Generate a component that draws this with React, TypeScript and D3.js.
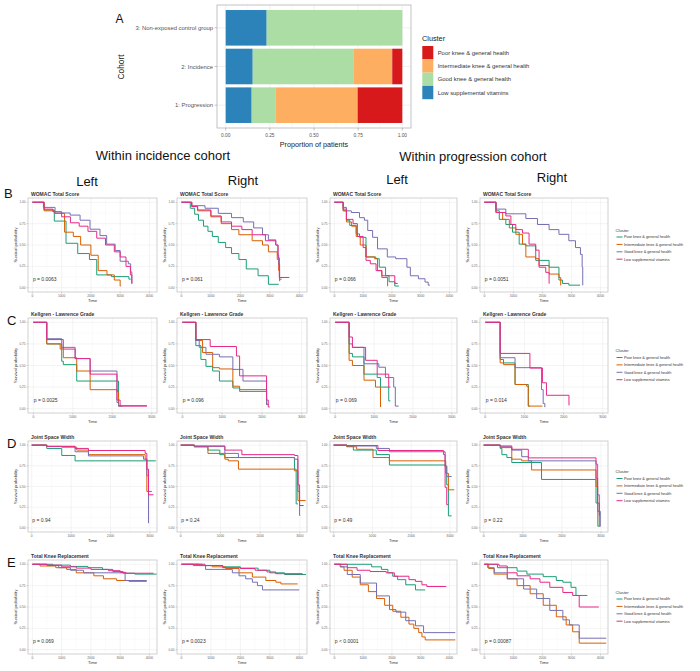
import React from "react";
import * as d3 from "d3";

// ---------- panel A: cluster share per cohort ----------
const cohorts = ["1: Progression", "2: Incidence", "3: Non-exposed control group"];
const lowShare = [0.147, 0.153, 0.232];
const goodShare = [0.134, 0.573, 0.768];
const intermediateShare = [0.466, 0.217, 0];
const poorShare = [0.253, 0.057, 0];
const shareTicks = [0, 0.25, 0.5, 0.75, 1];

const clusterNames = [
  "Poor knee & general health",
  "Intermediate knee & general health",
  "Good knee & general health",
  "Low supplemental vitamins",
];
// bar colours (Spectral) and curve colours (Dark2), same order as clusterNames
const barColors = ["#d7191c", "#fdae61", "#abdda4", "#2b83ba"];
const kmColors = ["#1b9e77", "#d95f02", "#7570b3", "#e7298a"];

// ---------- KM curves: [time, survival], order poor / intermediate / good / low ----------
const womacIncL = [
  [[0, 1], [400, 0.91], [750, 0.78], [1150, 0.52], [1550, 0.4], [1950, 0.33], [2200, 0.15], [2700, 0.13], [3300, 0.1], [3360, 0.1]],
  [[0, 1], [400, 0.9], [750, 0.87], [1100, 0.65], [1400, 0.6], [1650, 0.5], [2000, 0.38], [2250, 0.2], [2550, 0.15], [2800, 0.09], [3000, 0.02], [3020, 0.02]],
  [[0, 1], [376, 0.94], [775, 0.875], [1290, 0.85], [1630, 0.79], [1970, 0.685], [2310, 0.61], [2540, 0.51], [2830, 0.435], [3000, 0.31], [3280, 0.28], [3360, 0.185], [3400, 0.05], [3410, 0.05]],
  [[0, 1], [400, 0.92], [700, 0.89], [1000, 0.83], [1300, 0.76], [1600, 0.72], [1900, 0.66], [2200, 0.58], [2500, 0.5], [2800, 0.42], [3000, 0.36], [3200, 0.25], [3350, 0.15], [3400, 0.05], [3410, 0.05]],
];
const womacIncR = [
  [[0, 1], [300, 0.93], [450, 0.86], [580, 0.79], [750, 0.72], [900, 0.66], [1050, 0.6], [1250, 0.53], [1500, 0.47], [1700, 0.4], [1950, 0.33], [2200, 0.22], [2600, 0.14], [2950, 0.04], [3300, 0.04]],
  [[0, 1], [350, 0.95], [550, 0.9], [1000, 0.83], [1350, 0.75], [1700, 0.68], [1950, 0.62], [2400, 0.55], [2750, 0.5], [2950, 0.42], [3250, 0.33], [3300, 0.2], [3330, 0.08], [3350, 0.08]],
  [[0, 1], [350, 0.96], [800, 0.93], [1250, 0.87], [1700, 0.82], [2100, 0.77], [2450, 0.7], [2750, 0.62], [2950, 0.56], [3200, 0.5], [3270, 0.38], [3300, 0.28], [3330, 0.1], [3400, 0.1]],
  [[0, 1], [350, 0.95], [550, 0.91], [1000, 0.84], [1350, 0.77], [1700, 0.72], [2050, 0.68], [2400, 0.62], [2850, 0.55], [3200, 0.5], [3280, 0.35], [3320, 0.12], [3660, 0.12]],
];
const womacProL = [
  [[0, 1], [307, 0.9], [420, 0.79], [535, 0.73], [760, 0.63], [875, 0.59], [1100, 0.36], [1440, 0.34], [1560, 0.24], [1780, 0.14], [1900, 0.07], [2100, 0.02], [2240, 0.02]],
  [[0, 1], [307, 0.9], [420, 0.77], [600, 0.72], [760, 0.6], [900, 0.5], [1100, 0.36], [1400, 0.34], [1500, 0.2], [1650, 0.12], [1850, 0.02], [1860, 0.02]],
  [[0, 1], [307, 0.94], [420, 0.9], [590, 0.88], [875, 0.82], [1045, 0.79], [1160, 0.67], [1330, 0.59], [1500, 0.455], [1840, 0.36], [2130, 0.34], [2520, 0.24], [2640, 0.14], [2920, 0.105], [3150, 0.066], [3260, 0.03], [3320, 0.03]],
  [[0, 1], [307, 0.92], [420, 0.8], [650, 0.75], [800, 0.6], [1000, 0.47], [1100, 0.32], [1250, 0.28], [1450, 0.2], [1650, 0.14], [2100, 0.05], [2200, 0.05]],
];
const womacProR = [
  [[0, 1], [400, 0.9], [515, 0.8], [740, 0.74], [970, 0.65], [1200, 0.51], [1430, 0.49], [1770, 0.32], [2230, 0.24], [2570, 0.09], [2690, 0.05], [2910, 0.03], [3300, 0.03]],
  [[0, 1], [400, 0.88], [630, 0.8], [860, 0.7], [1085, 0.625], [1315, 0.51], [1430, 0.36], [1770, 0.34], [1885, 0.26], [2230, 0.16], [2570, 0.12], [2630, 0.03], [2640, 0.03]],
  [[0, 1], [400, 0.92], [740, 0.865], [1430, 0.81], [1830, 0.74], [2230, 0.68], [2570, 0.625], [2910, 0.55], [3140, 0.47], [3310, 0.39], [3370, 0.24], [3390, 0.03], [3400, 0.03]],
  [[0, 1], [400, 0.88], [740, 0.84], [915, 0.74], [1085, 0.68], [1315, 0.64], [1540, 0.51], [1770, 0.44], [1885, 0.24], [2115, 0.18], [2230, 0.05], [2240, 0.05]],
];

const klIncL = [
  [[0, 1], [340, 0.75], [720, 0.55], [760, 0.51], [1100, 0.32], [2120, 0.32], [2160, 0.03], [2250, 0.03]],
  [[0, 1], [340, 0.75], [680, 0.69], [760, 0.59], [1100, 0.436], [1440, 0.22], [2120, 0.2], [2160, 0.03], [2200, 0.03]],
  [[0, 1], [340, 0.81], [720, 0.71], [1060, 0.58], [1440, 0.436], [2120, 0.07], [2160, 0.035], [2880, 0.035]],
  [[0, 1], [340, 0.8], [760, 0.69], [1060, 0.58], [1440, 0.4], [2120, 0.1], [2200, 0.03], [2880, 0.03]],
];
const klIncR = [
  [[0, 1], [339, 0.73], [466, 0.57], [593, 0.49], [762, 0.436], [932, 0.32], [1270, 0.24], [1440, 0.22], [2118, 0.05], [2130, 0.05]],
  [[0, 1], [339, 0.79], [508, 0.65], [762, 0.475], [932, 0.46], [1270, 0.26], [1440, 0.2], [2118, 0.05], [2140, 0.05]],
  [[0, 1], [339, 0.79], [424, 0.71], [593, 0.63], [932, 0.6], [1270, 0.455], [1525, 0.32], [2118, 0.05], [2180, 0.05]],
  [[0, 1], [339, 0.8], [700, 0.72], [1360, 0.61], [1440, 0.38], [2118, 0.1], [2160, 0.02], [2200, 0.02]],
];
const klProL = [
  [[0, 1], [357, 0.64], [442, 0.6], [740, 0.4], [1080, 0.36], [1165, 0.25], [1377, 0.09], [1420, 0.09]],
  [[0, 1], [357, 0.56], [442, 0.5], [740, 0.33], [1037, 0.25], [1165, 0.02], [1170, 0.02]],
  [[0, 1], [357, 0.75], [442, 0.71], [740, 0.52], [1122, 0.48], [1292, 0.36], [1505, 0.25], [1547, 0.03], [1632, 0.03]],
  [[0, 1], [357, 0.83], [442, 0.71], [782, 0.56], [1080, 0.4], [1377, 0.25], [1420, 0.25]],
];
const klProR = [
  [[0, 1], [380, 0.57], [465, 0.53], [760, 0.28], [1099, 0.03], [1140, 0.03]],
  [[0, 1], [380, 0.53], [465, 0.51], [760, 0.28], [1056, 0.26], [1099, 0.03], [1460, 0.03]],
  [[0, 1], [380, 0.59], [760, 0.475], [1437, 0.22], [1479, 0.06], [1521, 0.02], [1530, 0.02]],
  [[0, 1], [380, 0.64], [1140, 0.47], [1460, 0.3], [1563, 0.155], [2138, 0.04], [2145, 0.04]],
];

const jswIncL = [
  [[0, 1], [381, 0.96], [762, 0.875], [1100, 0.81], [3150, 0.81]],
  [[0, 1], [381, 0.985], [1100, 0.975], [1143, 0.94], [1440, 0.885], [2880, 0.83], [2922, 0.44], [3050, 0.44]],
  [[0, 1], [381, 0.985], [762, 0.975], [1100, 0.92], [1440, 0.87], [2837, 0.83], [2922, 0.63], [2964, 0.06], [2980, 0.06]],
  [[0, 1], [381, 0.985], [1100, 0.96], [1440, 0.935], [2880, 0.9], [2922, 0.71], [2964, 0.4], [3090, 0.4]],
];
const jswIncR = [
  [[0, 1], [342, 0.98], [684, 0.94], [983, 0.885], [1111, 0.85], [2864, 0.71], [2907, 0.29], [2950, 0.29]],
  [[0, 1], [342, 0.98], [684, 0.9], [1111, 0.83], [1197, 0.81], [1453, 0.71], [2864, 0.69], [2950, 0.33], [3146, 0.33]],
  [[0, 1], [342, 0.985], [1111, 0.9], [1453, 0.85], [2864, 0.83], [2950, 0.44], [2993, 0.15], [3010, 0.15]],
  [[0, 1], [342, 0.99], [1111, 0.94], [1539, 0.885], [2864, 0.875], [2950, 0.52], [2993, 0.27], [3095, 0.27]],
];
const jswProL = [
  [[0, 1], [338, 0.985], [507, 0.94], [1099, 0.886], [1437, 0.76], [2873, 0.74], [2915, 0.52], [2958, 0.145], [3042, 0.145]],
  [[0, 1], [338, 0.98], [592, 0.95], [1014, 0.85], [1437, 0.81], [2890, 0.66], [2958, 0.46], [3110, 0.46]],
  [[0, 1], [338, 0.99], [1099, 0.96], [1437, 0.92], [2831, 0.886], [2873, 0.75], [2915, 0.62], [3042, 0.62]],
  [[0, 1], [338, 0.995], [1141, 0.935], [2831, 0.92], [2873, 0.49], [2915, 0.28], [2958, 0.28]],
];
const jswProR = [
  [[0, 1], [423, 0.96], [465, 0.885], [592, 0.85], [718, 0.79], [1479, 0.585], [2873, 0.3], [2920, 0.02], [2960, 0.02]],
  [[0, 1], [423, 0.97], [718, 0.83], [972, 0.81], [1225, 0.7], [2873, 0.5], [2915, 0.2], [2958, 0.02], [2983, 0.02]],
  [[0, 1], [423, 0.98], [718, 0.94], [972, 0.86], [1141, 0.81], [2873, 0.77], [2915, 0.4], [2958, 0.2], [2983, 0.02], [2990, 0.02]],
  [[0, 1], [423, 0.99], [718, 0.95], [1141, 0.846], [2873, 0.6], [2915, 0.3], [2958, 0.15], [2970, 0.15]],
];

const tkrIncL = [
  [[0, 1], [700, 0.99], [1300, 0.975], [1900, 0.96], [2400, 0.94], [2750, 0.915], [3100, 0.895], [3500, 0.885], [4250, 0.885]],
  [[0, 1], [260, 0.98], [800, 0.96], [1170, 0.94], [1500, 0.9], [2100, 0.865], [2430, 0.83], [2880, 0.81], [3300, 0.8], [3910, 0.8]],
  [[0, 1], [500, 0.985], [900, 0.96], [1300, 0.93], [1750, 0.9], [3170, 0.81], [3910, 0.81]],
  [[0, 1], [500, 0.99], [1000, 0.97], [1500, 0.955], [2000, 0.94], [2600, 0.925], [3000, 0.905], [3200, 0.895], [4140, 0.895]],
];
const tkrIncR = [
  [[0, 1], [700, 0.985], [1400, 0.97], [2000, 0.955], [2600, 0.93], [3000, 0.9], [3500, 0.88], [4226, 0.88]],
  [[0, 1], [600, 0.985], [1045, 0.97], [1500, 0.95], [1954, 0.9], [2408, 0.85], [2863, 0.81], [3204, 0.79], [3374, 0.77], [3942, 0.77]],
  [[0, 1], [400, 0.985], [818, 0.94], [1727, 0.9], [1954, 0.865], [2181, 0.83], [2408, 0.79], [2579, 0.75], [2749, 0.7], [3998, 0.7]],
  [[0, 1], [800, 0.985], [1400, 0.96], [2000, 0.95], [2500, 0.93], [2900, 0.91], [3200, 0.89], [4110, 0.89]],
];
const tkrProL = [
  [[0, 1], [1296, 0.97], [1634, 0.94], [1860, 0.9], [2029, 0.86], [2198, 0.82], [2480, 0.76], [2818, 0.7], [3156, 0.7]],
  [[0, 1], [200, 0.97], [338, 0.93], [620, 0.85], [902, 0.76], [1183, 0.68], [1465, 0.6], [1747, 0.52], [2029, 0.45], [2310, 0.38], [2592, 0.3], [2761, 0.25], [2930, 0.2], [3043, 0.15], [3156, 0.115], [4200, 0.115]],
  [[0, 1], [225, 0.97], [451, 0.88], [902, 0.78], [1465, 0.63], [1916, 0.47], [2141, 0.44], [2479, 0.34], [2818, 0.28], [3099, 0.2], [4200, 0.2]],
  [[0, 1], [451, 0.96], [789, 0.93], [1240, 0.915], [1803, 0.9], [2085, 0.86], [2592, 0.82], [2818, 0.8], [3043, 0.76], [3212, 0.74], [3888, 0.74]],
];
const tkrProR = [
  [[0, 1], [451, 0.96], [1127, 0.92], [1465, 0.885], [2029, 0.855], [2479, 0.81], [2705, 0.79], [2986, 0.73], [3156, 0.635], [3550, 0.635]],
  [[0, 1], [150, 0.95], [338, 0.885], [789, 0.83], [1127, 0.75], [1578, 0.655], [2029, 0.52], [2479, 0.385], [2818, 0.29], [3043, 0.21], [3268, 0.077], [4200, 0.077]],
  [[0, 1], [113, 0.96], [338, 0.9], [789, 0.83], [1352, 0.71], [1803, 0.6], [2254, 0.46], [2705, 0.35], [2930, 0.29], [3268, 0.135], [4200, 0.135]],
  [[0, 1], [507, 0.98], [789, 0.9], [1127, 0.865], [1578, 0.83], [1916, 0.79], [2254, 0.73], [2705, 0.67], [3043, 0.635], [3268, 0.5], [3945, 0.5]],
];

const rowTitles = ["WOMAC Total Score", "Kellgren - Lawrence Grade", "Joint Space Width", "Total Knee Replacement"];
const rowLetters = ["B", "C", "D", "E"];
const pWomac = ["p = 0.0063", "p = 0.061", "p = 0.066", "p = 0.0051"];
const pKl = ["p = 0.0025", "p = 0.096", "p = 0.069", "p = 0.014"];
const pJsw = ["p = 0.94", "p = 0.24", "p = 0.49", "p = 0.22"];
const pTkr = ["p = 0.069", "p = 0.0023", "p < 0.0001", "p = 0.00087"];
const timeTicks4k = [0, 1000, 2000, 3000, 4000];
const timeTicks3k = [0, 1000, 2000, 3000];
const survTicks = [0, 0.25, 0.5, 0.75, 1];

const rowCurves = [
  [womacIncL, womacIncR, womacProL, womacProR],
  [klIncL, klIncR, klProL, klProR],
  [jswIncL, jswIncR, jswProL, jswProR],
  [tkrIncL, tkrIncR, tkrProL, tkrProR],
];
const rowP = [pWomac, pKl, pJsw, pTkr];
const rowTicks = [timeTicks4k, timeTicks3k, timeTicks3k, timeTicks4k];

// layout
const FONT = "'Liberation Sans', Arial, sans-serif";
const colX = [[28, 157], [177, 307], [330, 457], [480, 608]];
const rowY = [[198, 292], [318, 413], [441, 532], [560, 654]];
const rowDomain = [[-150, 4260], [-135, 3135], [-95, 3180], [-150, 4260]];

function KMPanel({ xr, yr, domain, ticks, title, curves, p }: any) {
  const x = d3.scaleLinear().domain(domain).range(xr);
  const y = d3.scaleLinear().domain([-0.05, 1.05]).range([yr[1], yr[0]]);
  const line = d3
    .line<number[]>()
    .x((d) => x(d[0]))
    .y((d) => y(d[1]))
    .curve(d3.curveStepAfter);
  const minorX = ticks.slice(1).map((t: number, i: number) => (t + ticks[i]) / 2);
  const minorY = survTicks.slice(1).map((t, i) => (t + survTicks[i]) / 2);
  const [x0, x1] = xr;
  const [y0, y1] = yr;
  return (
    <g>
      <rect x={x0} y={y0} width={x1 - x0} height={y1 - y0} fill="#fff" />
      {minorX.map((t: number) => (
        <line key={"mx" + t} x1={x(t)} x2={x(t)} y1={y0} y2={y1} stroke="#f4f4f4" strokeWidth={0.4} />
      ))}
      {minorY.map((t) => (
        <line key={"my" + t} x1={x0} x2={x1} y1={y(t)} y2={y(t)} stroke="#f4f4f4" strokeWidth={0.4} />
      ))}
      {ticks.map((t: number) => (
        <line key={"gx" + t} x1={x(t)} x2={x(t)} y1={y0} y2={y1} stroke="#e8e8e8" strokeWidth={0.5} />
      ))}
      {survTicks.map((t) => (
        <line key={"gy" + t} x1={x0} x2={x1} y1={y(t)} y2={y(t)} stroke="#e8e8e8" strokeWidth={0.5} />
      ))}
      {curves.map((c: number[][], i: number) => (
        <path key={i} d={line(c) as string} fill="none" stroke={kmColors[i]} strokeWidth={1} />
      ))}
      <rect x={x0} y={y0} width={x1 - x0} height={y1 - y0} fill="none" stroke="#bdbdbd" strokeWidth={0.7} />
      {ticks.map((t: number) => (
        <g key={"tx" + t}>
          <line x1={x(t)} x2={x(t)} y1={y1} y2={y1 + 1.5} stroke="#999" strokeWidth={0.4} />
          <text x={x(t)} y={y1 + 5} fontSize={3.3} fill="#666" textAnchor="middle">{t}</text>
        </g>
      ))}
      {survTicks.map((t) => (
        <g key={"ty" + t}>
          <line x1={x0 - 1.5} x2={x0} y1={y(t)} y2={y(t)} stroke="#999" strokeWidth={0.4} />
          <text x={x0 - 2.5} y={y(t) + 1.1} fontSize={3.1} fill="#666" textAnchor="end">{t.toFixed(2)}</text>
        </g>
      ))}
      <text x={(x0 + x1) / 2} y={y1 + 10} fontSize={4.2} fill="#333" textAnchor="middle">Time</text>
      <text
        transform={`translate(${x0 - 11.5},${(y0 + y1) / 2}) rotate(-90)`}
        fontSize={4.2}
        fill="#333"
        textAnchor="middle"
      >
        Survival probability
      </text>
      <text x={x0 + 3} y={y0 - 2.5} fontSize={5} fontWeight="bold" fill="#333">{title}</text>
      <text x={x(0) + 0.5} y={y(0.1) + 2} fontSize={5} fill="#333">{p}</text>
    </g>
  );
}

function RowLegend({ cy }: { cy: number }) {
  return (
    <g>
      <text x={615.5} y={cy - 13.5} fontSize={4.2} fill="#333">Cluster</text>
      {clusterNames.map((n, i) => (
        <g key={n}>
          <line x1={616.5} x2={622.5} y1={cy - 8 + i * 7.4} y2={cy - 8 + i * 7.4} stroke={kmColors[i]} strokeWidth={1} />
          <text x={624} y={cy - 6.7 + i * 7.4} fontSize={3.8} fill="#333">{n}</text>
        </g>
      ))}
    </g>
  );
}

function PanelA() {
  const x = d3.scaleLinear().domain([0, 1]).range([225.7, 402.3]);
  const y = d3
    .scaleBand()
    .domain([...cohorts].reverse())
    .range([5, 128])
    .paddingInner(0.08)
    .paddingOuter(0.13);
  const table = cohorts.map((c, i) => ({
    cohort: c,
    low: lowShare[i],
    good: goodShare[i],
    intermediate: intermediateShare[i],
    poor: poorShare[i],
  }));
  const keys = ["low", "good", "intermediate", "poor"];
  const keyColor: any = { poor: barColors[0], intermediate: barColors[1], good: barColors[2], low: barColors[3] };
  const stack = d3.stack<any>().keys(keys)(table);
  const minor = shareTicks.slice(1).map((t, i) => (t + shareTicks[i]) / 2);
  return (
    <g>
      <rect x={217} y={5} width={194} height={123} fill="#fff" />
      {minor.map((t) => (
        <line key={"m" + t} x1={x(t)} x2={x(t)} y1={5} y2={128} stroke="#f2f2f2" strokeWidth={0.5} />
      ))}
      {shareTicks.map((t) => (
        <line key={"g" + t} x1={x(t)} x2={x(t)} y1={5} y2={128} stroke="#e6e6e6" strokeWidth={0.6} />
      ))}
      {cohorts.map((c) => (
        <line key={"h" + c} x1={217} x2={411} y1={(y(c) as number) + y.bandwidth() / 2} y2={(y(c) as number) + y.bandwidth() / 2} stroke="#e6e6e6" strokeWidth={0.6} />
      ))}
      {stack.map((s) =>
        s.map((d, j) => (
          <rect
            key={s.key + j}
            x={x(d[0])}
            width={Math.max(0, x(d[1]) - x(d[0]))}
            y={y(d.data.cohort)}
            height={y.bandwidth()}
            fill={keyColor[s.key]}
          />
        ))
      )}
      <rect x={217} y={5} width={194} height={123} fill="none" stroke="#b3b3b3" strokeWidth={0.8} />
      {shareTicks.map((t) => (
        <g key={"t" + t}>
          <line x1={x(t)} x2={x(t)} y1={128} y2={130.5} stroke="#888" strokeWidth={0.5} />
          <text x={x(t)} y={136.5} fontSize={4.8} fill="#555" textAnchor="middle">{t.toFixed(2)}</text>
        </g>
      ))}
      {cohorts.map((c) => (
        <g key={"c" + c}>
          <line x1={214.5} x2={217} y1={(y(c) as number) + y.bandwidth() / 2} y2={(y(c) as number) + y.bandwidth() / 2} stroke="#888" strokeWidth={0.5} />
          <text x={213} y={(y(c) as number) + y.bandwidth() / 2 + 2} fontSize={5.9} fill="#555" textAnchor="end">{c}</text>
        </g>
      ))}
      <text x={314} y={146.5} fontSize={7.2} fill="#222" textAnchor="middle">Proportion of patients</text>
      <text transform="translate(124,67) rotate(-90)" fontSize={8.3} fill="#222" textAnchor="middle">Cohort</text>
      <text x={422} y={41} fontSize={7.3} fill="#222">Cluster</text>
      {clusterNames.map((n, i) => (
        <g key={n}>
          <rect x={422.3} y={46 + i * 13.3} width={11} height={13.3} fill={barColors[i]} />
          <text x={437.7} y={54.8 + i * 13.3} fontSize={5.9} fill="#333">{n}</text>
        </g>
      ))}
      <text x={115.5} y={23} fontSize={12} fill="#111">A</text>
    </g>
  );
}

export default function App() {
  return (
    <svg
      width={700}
      height={671}
      style={{ position: "absolute", left: 0, top: 0, background: "#fff", fontFamily: FONT }}
    >
      <rect width={700} height={671} fill="#fff" />
      <PanelA />
      <text x={163} y={160} fontSize={13} textAnchor="middle" fill="#111">Within incidence cohort</text>
      <text x={473} y={161} fontSize={13} textAnchor="middle" fill="#111">Within progression cohort</text>
      <text x={87} y={186} fontSize={13} textAnchor="middle" fill="#111">Left</text>
      <text x={243} y={185} fontSize={13} textAnchor="middle" fill="#111">Right</text>
      <text x={397} y={184} fontSize={13} textAnchor="middle" fill="#111">Left</text>
      <text x={552} y={182} fontSize={13} textAnchor="middle" fill="#111">Right</text>
      {rowCurves.map((panels, r) => (
        <g key={r}>
          <text x={4 + (r > 0 ? 3 : 0)} y={rowY[r][0] + (r === 0 ? 0 : 7)} fontSize={13} fill="#111">{rowLetters[r]}</text>
          {panels.map((curves, c) => (
            <KMPanel
              key={c}
              xr={colX[c]}
              yr={rowY[r]}
              domain={rowDomain[r]}
              ticks={rowTicks[r]}
              title={rowTitles[r]}
              curves={curves}
              p={rowP[r][c]}
            />
          ))}
          <RowLegend cy={(rowY[r][0] + rowY[r][1]) / 2} />
        </g>
      ))}
    </svg>
  );
}
